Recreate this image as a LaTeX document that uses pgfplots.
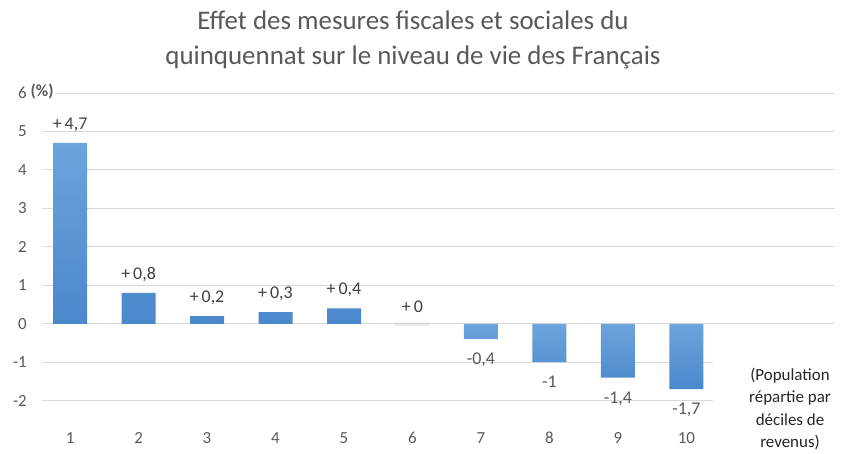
\documentclass[border=0pt]{standalone}
\usepackage{pgfplots}
\pgfplotsset{compat=1.18}
\usepackage{fontspec}
\setmainfont{Carlito}
\definecolor{bartop}{RGB}{108,164,220}
\definecolor{barbot}{RGB}{74,136,204}
\definecolor{txtgray}{RGB}{89,89,89}
\definecolor{lblgray}{RGB}{64,64,64}
\definecolor{gridgray}{RGB}{217,217,217}
\begin{document}
\begin{tikzpicture}[x=1bp,y=1bp]
\path[use as bounding box] (0,0) rectangle (842,454);
\begin{axis}[
  at={(42bp,53.3bp)}, anchor=south west,
  scale only axis, width=793bp, height=307.7bp,
  xmin=0.59, xmax=12.17, ymin=-2, ymax=6,
  axis line style={draw=none},
  tick style={draw=none},
  ymajorgrids, grid style={gridgray, line width=0.9bp},
  xtick={1,...,10}, ytick={-2,-1,...,6},
  /pgf/number format/assume math mode=true,
  ticklabel style={font=\fontsize{17}{17}\selectfont, text=txtgray},
  xticklabel style={anchor=base, yshift=-43bp},
  yticklabel style={anchor=east, inner sep=0pt, xshift=-15bp},
  clip=false,
]
\addplot[ybar, bar width=34bp, bar shift=0pt, fill=black!8, draw=none, forget plot] coordinates {(6,-0.07)};
\addplot[ybar, bar width=34bp, bar shift=0pt, top color=bartop, bottom color=barbot, draw=none,
  nodes near coords, point meta=explicit symbolic,
  every node near coord/.append style={font=\fontsize{18}{18}\selectfont, text=lblgray, inner sep=2bp, anchor=south, yshift=9bp}]
  coordinates {
  (1,4.7) [+\,4,7]
  (2,0.8) [+\,0,8]
  (3,0.2) [+\,0,2]
  (4,0.3) [+\,0,3]
  (5,0.4) [+\,0,4]
  (6,0) [+\,0]
  };
\addplot[ybar, bar width=34bp, bar shift=0pt, top color=bartop, bottom color=barbot, draw=none,
  nodes near coords, point meta=explicit symbolic,
  every node near coord/.append style={font=\fontsize{18}{18}\selectfont, text=txtgray, inner sep=2bp, anchor=north, yshift=-12bp}]
  coordinates {
  (7,-0.4) [-0,4]
  (8,-1) [-1]
  (9,-1.4) [-1,4]
  (10,-1.7) [-1,7]
  };
\end{axis}
\node[anchor=west, fill=white, inner sep=1.5bp, font=\fontsize{17}{17}\selectfont\bfseries, text=txtgray] at (29,362) {(\%)};
\fill[white] (713,0) rectangle (842,109);
\node[align=center, font=\fontsize{17}{22.5}\selectfont, text=black!85] at (790,45) {(Population\\répartie par\\déciles de\\revenus)};
\node[align=center, font=\fontsize{27}{35}\selectfont, text=txtgray] at (413,414) {Effet des mesures fiscales et sociales du\\quinquennat sur le niveau de vie des Français};
\end{tikzpicture}
\end{document}
